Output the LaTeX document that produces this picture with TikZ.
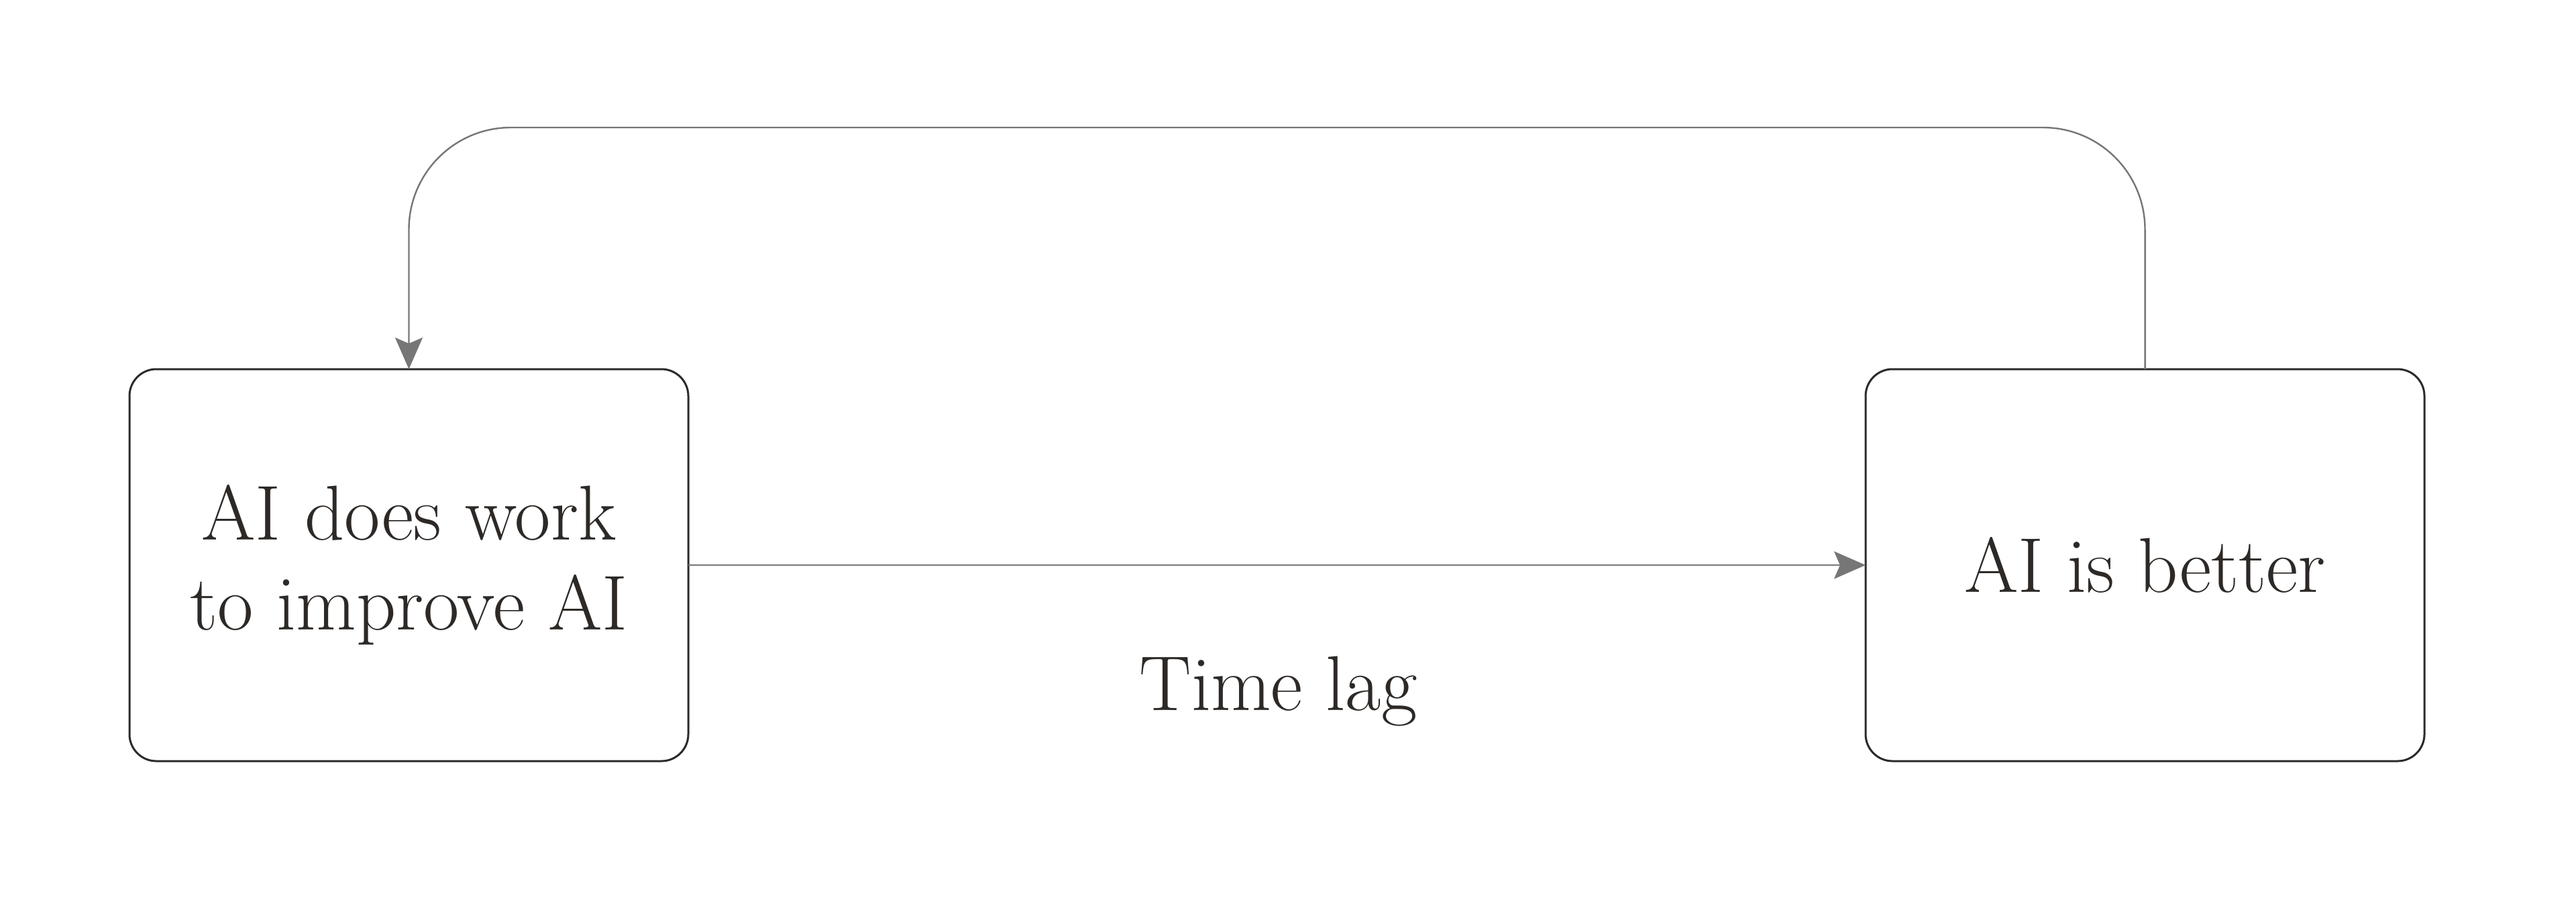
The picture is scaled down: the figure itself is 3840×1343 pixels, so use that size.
\documentclass[tikz,border=0pt]{standalone}
\usepackage{fontspec}
\usetikzlibrary{arrows.meta}
\definecolor{boxline}{HTML}{2B2B2B}
\definecolor{connline}{HTML}{767676}
\definecolor{inkc}{HTML}{2D2926}
\tikzset{
  stagebox/.style={draw=boxline, line width=0.75pt, rounded corners=10pt,
    minimum width=208.25pt, minimum height=146pt, inner sep=0pt, outer sep=0pt,
    align=center, text=inkc, font=\fontsize{29pt}{33.5pt}\selectfont},
  conn/.style={draw=connline, line width=0.6pt,
    -{Stealth[length=11.75pt, width=10.25pt, inset=2.2pt]}},
  lbl/.style={text=inkc, font=\fontsize{29pt}{33.5pt}\selectfont, inner sep=0pt}
}
\begin{document}
\begin{tikzpicture}[x=0.25pt, y=-0.25pt]
  \useasboundingbox (0,0) rectangle (3840,1343);
  \node[stagebox] (left) at (609.5,842) {AI does work\\to improve AI};
  \node[stagebox] (right) at (3197.5,842) {AI is better};
  \coordinate (tr) at (3197.5,190);
  \coordinate (tl) at (609.5,190);
  \draw[conn] (left.east) -- (right.west);
  \draw[conn, rounded corners=38pt] (right.north) -- (tr) -- (tl) -- (left.north);
  \node[lbl, anchor=base] (lag) at (1905.5,1058) {Time lag};
\end{tikzpicture}
\end{document}
